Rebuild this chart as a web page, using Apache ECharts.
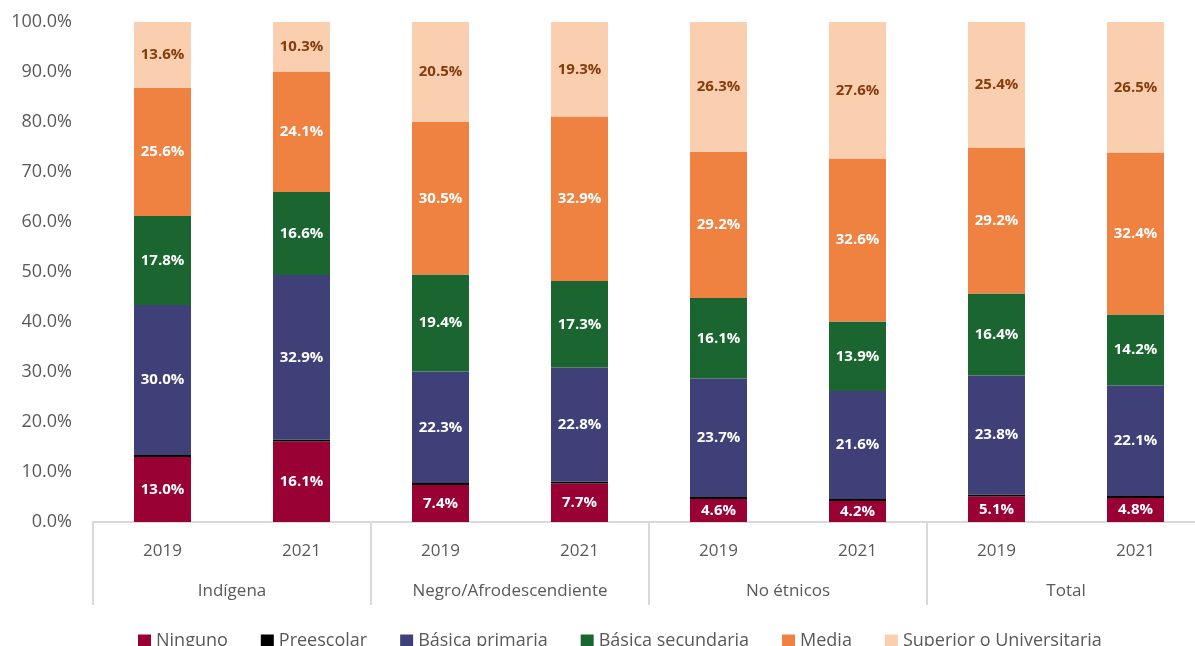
<!DOCTYPE html>
<html>
<head>
<meta charset="utf-8">
<script src="https://cdn.jsdelivr.net/npm/echarts@6/dist/echarts.min.js"></script>
<style>
  html, body { margin: 0; padding: 0; background: #fff; }
  #main { width: 1195px; height: 646px; }
</style>
</head>
<body>
<div id="main"></div>
<script>
// categorias
var years = ['2019', '2021', '2019', '2021', '2019', '2021', '2019', '2021'];
var groups = ['Indígena', 'Negro/Afrodescendiente', 'No étnicos', 'Total'];
var yTicks = [0, 10, 20, 30, 40, 50, 60, 70, 80, 90, 100];

// valores (%)
var ninguno = [13.0, 16.1, 7.4, 7.7, 4.6, 4.2, 5.1, 4.8];
var preescolar = [0.4, 0.4, 0.4, 0.4, 0.4, 0.4, 0.4, 0.4];
var primaria = [30.0, 32.9, 22.3, 22.8, 23.7, 21.6, 23.8, 22.1];
var secundaria = [17.8, 16.6, 19.4, 17.3, 16.1, 13.9, 16.4, 14.2];
var media = [25.6, 24.1, 30.5, 32.9, 29.2, 32.6, 29.2, 32.4];
var superior = [13.6, 10.3, 20.5, 19.3, 26.3, 27.6, 25.4, 26.5];

var chart = echarts.init(document.getElementById('main'), null, { renderer: 'canvas' });

var font = 'Open Sans';

function serie(name, data, color, labelColor, showLabel) {
  return {
    name: name,
    type: 'bar',
    stack: 'total',
    barWidth: '41%',
    data: data,
    itemStyle: { color: color },
    label: {
      show: showLabel,
      position: 'inside',
      color: labelColor,
      fontFamily: font,
      fontWeight: 'bold',
      fontSize: 15,
      formatter: function (p) { return p.value.toFixed(1) + '%'; }
    }
  };
}

var option = {
  animation: false,
  textStyle: { fontFamily: font },
  // el eje sigue un poco fuera del lienzo por la derecha
  grid: { left: 93, width: 1112, top: 22, bottom: 124, outerBoundsMode: 'none', containLabel: false },
  legend: {
    top: 627,
    left: 133,
    itemWidth: 13,
    itemHeight: 13,
    itemGap: 33,
    icon: 'rect',
    textStyle: { fontFamily: font, fontSize: 18, color: '#595959' },
    data: ['Ninguno', 'Preescolar', 'Básica primaria', 'Básica secundaria', 'Media', 'Superior o Universitaria']
  },
  xAxis: [{
    type: 'category',
    data: years,
    axisLine: { lineStyle: { color: '#d9d9d9', width: 2 } },
    axisTick: { show: false },
    axisLabel: { color: '#595959', fontSize: 17, fontFamily: font, margin: 21 }
  }, {
    type: 'category',
    data: groups,
    position: 'bottom',
    axisLine: { show: false },
    axisTick: { show: true, length: 83, interval: 0, lineStyle: { color: '#d9d9d9', width: 2 } },
    axisLabel: { color: '#595959', fontSize: 17, fontFamily: font, margin: 61, interval: 0 }
  }],
  yAxis: {
    type: 'value',
    min: yTicks[0],
    max: yTicks[yTicks.length - 1],
    interval: 10,
    splitLine: { show: false },
    axisLine: { show: false },
    axisTick: { show: false },
    axisLabel: {
      color: '#595959', fontSize: 18, fontFamily: font, margin: 21,
      formatter: function (v) { return v.toFixed(1) + '%'; }
    }
  },
  series: [
    serie('Ninguno', ninguno, '#990033', '#fff', true),
    serie('Preescolar', preescolar, '#000000', '#fff', false),
    serie('Básica primaria', primaria, '#404078', '#fff', true),
    serie('Básica secundaria', secundaria, '#1B6630', '#fff', true),
    serie('Media', media, '#EF8141', '#fff', true),
    serie('Superior o Universitaria', superior, '#FACFAF', '#843C0C', true)
  ]
};

chart.setOption(option);
</script>
</body>
</html>
